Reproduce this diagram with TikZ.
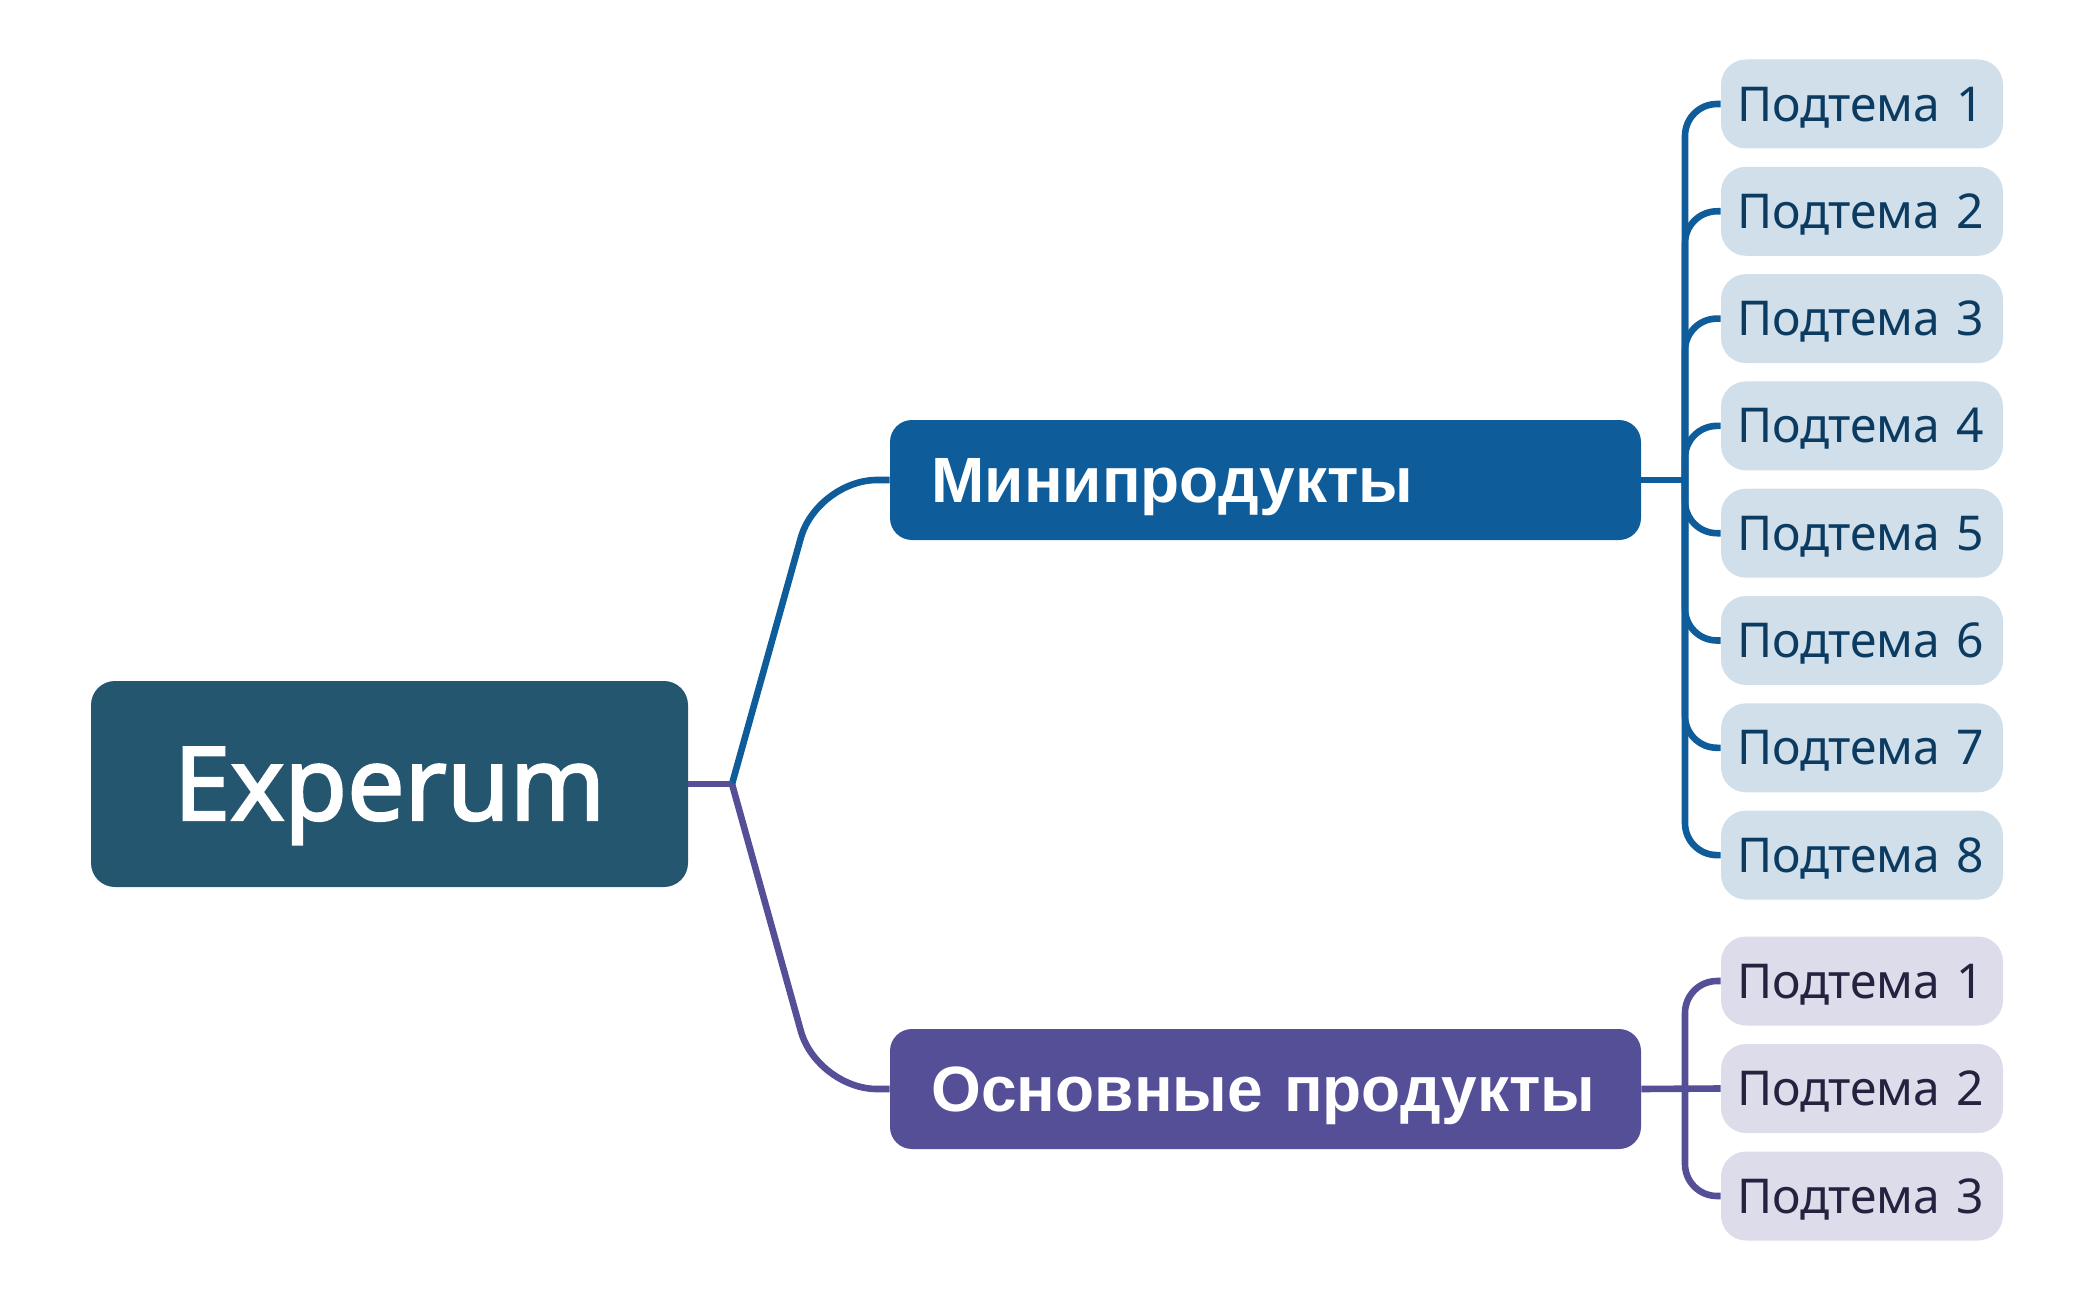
\documentclass[tikz,border=0pt]{standalone}
\usepackage{fontspec}
\setmainfont{Noto Sans}
\newfontfamily\topicfont{Liberation Sans}
\newfontfamily\rootfont{Noto Sans}[FakeBold=2.2]
\definecolor{rootcol}{HTML}{24566F}
\definecolor{minicol}{HTML}{0E5C99}
\definecolor{maincol}{HTML}{544F96}
\definecolor{minisub}{HTML}{D0DFEA}
\definecolor{mainsub}{HTML}{DDDCEA}
\definecolor{minitext}{HTML}{0C3B61}
\definecolor{maintext}{HTML}{25223F}
\begin{document}
\begin{tikzpicture}[x=0.5pt,y=-0.5pt,
  rootbox/.style={fill=rootcol,rounded corners=12pt,minimum width=298.5pt,minimum height=103pt,
    text height=36pt,text depth=0pt,text=white,font=\rootfont\fontsize{51}{54}\selectfont},
  topicbox/.style={rounded corners=11pt,text width=334pt,inner xsep=20.75pt,minimum height=60pt,
    text height=22.9pt,text depth=0pt,align=left,text=white,font=\topicfont\fontsize{32}{36}\selectfont\bfseries},
  subbox/.style={rounded corners=12.5pt,text width=125pt,inner xsep=8pt,minimum height=44.5pt,
    text height=17.1pt,text depth=0pt,align=left,font=\fontsize{24}{26}\selectfont},
  link/.style={line width=3.3pt}]
\useasboundingbox (0,0) rectangle (2095,1300);

\node[rootbox] (root) at (389.5,784) {Experum};
\node[topicbox,fill=minicol] (mini) at (1265.5,480) {Минипродукты};
\node[topicbox,fill=maincol] (main) at (1265.5,1089) {Основные продукты};
\foreach \i in {1,...,8}
  \node[subbox,fill=minisub,text=minitext] (m\i) at (1862,{104+107.3*(\i-1)}) {Подтема \i};
\foreach \i in {1,2,3}
  \node[subbox,fill=mainsub,text=maintext] (o\i) at (1862,{981+107.5*(\i-1)}) {Подтема \i};

\coordinate (j) at (732,784);
\coordinate (mt) at (1685,480);
\coordinate (ot) at (1685,1089);
\draw[link,minicol,rounded corners=30pt] (j) -- (817,480) -- (mini.west);
\draw[link,maincol,rounded corners=30pt] (j) -- (817,1089) -- (main.west);
\draw[link,maincol] (root.east) -- (j);
\draw[link,minicol] (mini.east) -- (mt);
\foreach \i in {1,...,8}
  \draw[link,minicol,rounded corners=16pt] (mt) |- (m\i.west);
\draw[link,maincol] (main.east) -- (o2.west);
\foreach \i in {1,3}
  \draw[link,maincol,rounded corners=16pt] (ot) |- (o\i.west);
\end{tikzpicture}
\end{document}
